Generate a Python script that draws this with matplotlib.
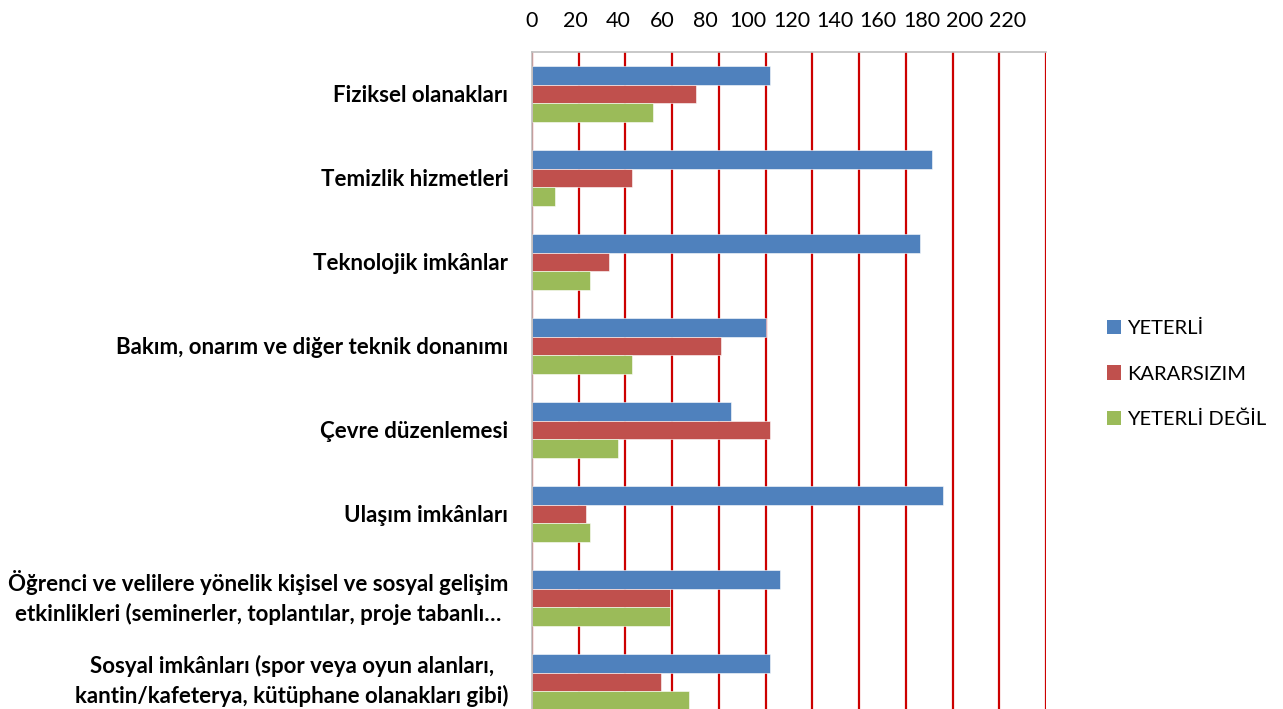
import numpy as np
import matplotlib.pyplot as plt
from matplotlib.patches import Patch
from matplotlib.transforms import ScaledTranslation

categories = [
    "Fiziksel olanakları",
    "Temizlik hizmetleri",
    "Teknolojik imkânlar",
    "Bakım, onarım ve diğer teknik donanımı",
    "Çevre düzenlemesi",
    "Ulaşım imkânları",
    "Öğrenci ve velilere yönelik kişisel ve sosyal gelişim\netkinlikleri (seminerler, toplantılar, proje tabanlı…",
    "Sosyal imkânları (spor veya oyun alanları,\nkantin/kafeterya, kütüphane olanakları gibi)",
]
yeterli = [102, 171, 166, 100, 85, 176, 106, 102]
kararsizim = [70, 43, 33, 81, 102, 23, 59, 55]
yeterli_degil = [52, 10, 25, 43, 37, 25, 59, 67]
series_names = ["YETERLİ", "KARARSIZIM", "YETERLİ DEĞİL"]
colors = ["#4F81BD", "#C0504D", "#9BBB59"]
xticks = list(range(0, 221, 20))

plt.rcParams["font.family"] = ["Lato", "DejaVu Sans"]

fig = plt.figure(figsize=(12.83, 7.09), dpi=100)
ax = fig.add_axes([532 / 1283, 1 - 724 / 709, 514 / 1283, 672 / 709])

y = np.arange(len(categories))
h = 1 / 4.5
for k, vals in enumerate([yeterli, kararsizim, yeterli_degil]):
    ax.barh(y + (k - 1) * h, vals, height=h, color=colors[k],
            edgecolor="white", linewidth=0.4, zorder=3)

ax.set_xlim(0, 220)
ax.set_ylim(len(categories) - 0.5, -0.5)
ax.set_xticks(xticks)
ax.tick_params(axis="x", length=0, labelbottom=False, labeltop=False)
ax.set_yticks(y)
ax.set_yticklabels(categories, fontweight="bold", fontsize=16,
                   multialignment="center", linespacing=1.45)
ax.tick_params(axis="y", length=0, pad=17)
# nudge the two-line labels up a little, like the original
up = ScaledTranslation(0, 5 / 72, fig.dpi_scale_trans)
for lab in ax.get_yticklabels():
    if "\n" in lab.get_text():
        lab.set_transform(lab.get_transform() + up)
ax.grid(axis="x", color="#CC0000", linewidth=1.6, zorder=1)
for s in ["right", "bottom"]:
    ax.spines[s].set_visible(False)
for s in ["left", "top"]:
    ax.spines[s].set_color("#BFBFBF")
    ax.spines[s].set_linewidth(1.2)
    ax.spines[s].set_zorder(4)

# value labels on top, spaced as in the original (slightly tighter than grid)
ax2 = ax.twiny()
ax2.set_xlim(0, 237.6)
ax2.set_xticks(xticks)
ax2.tick_params(axis="x", length=0, pad=15, labelsize=15.5)
for s in ax2.spines.values():
    s.set_visible(False)

handles = [Patch(facecolor=c, edgecolor="none") for c in colors]
fig.legend(handles, series_names, loc="upper left",
           bbox_to_anchor=(1099 / 1283, 1 - 312 / 709), frameon=False,
           fontsize=14.5, handlelength=0.7, handleheight=0.7,
           handletextpad=0.3, labelspacing=1.4, borderaxespad=0)

fig.savefig("out.png", dpi=100)
